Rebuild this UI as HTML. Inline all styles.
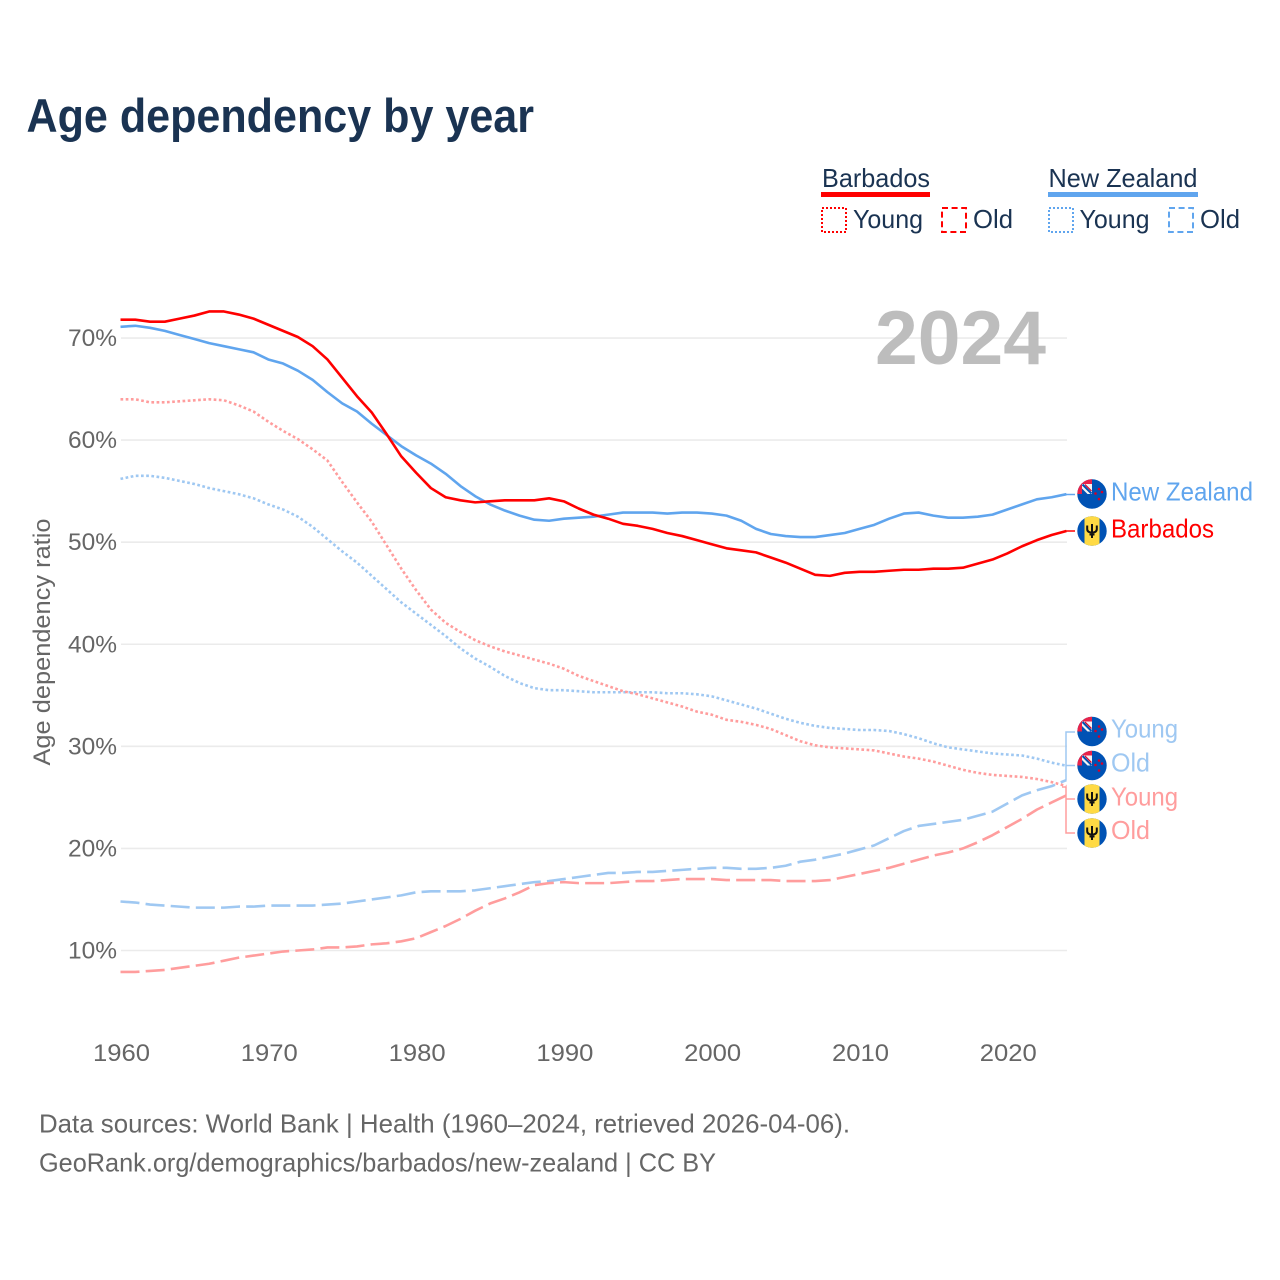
<!DOCTYPE html>
<html lang="en">
<head>
<meta charset="utf-8">
<title>Age dependency by year</title>
<style>
html,body{margin:0;padding:0;background:#fff;}
#chart{display:block;width:1280px;height:1280px;font-family:"Liberation Sans",sans-serif;}
</style>
</head>
<body>
<svg id="chart" xmlns="http://www.w3.org/2000/svg" width="1280" height="1280" viewBox="0 0 1280 1280">
<rect x="0" y="0" width="1280" height="1280" fill="#ffffff"/>
<text x="26.5" y="132" font-size="47" font-weight="700" fill="#1a3352" textLength="507.5" lengthAdjust="spacingAndGlyphs">Age dependency by year</text>

<g font-size="26" fill="#1a3352">
<text x="822" y="187" textLength="108" lengthAdjust="spacingAndGlyphs">Barbados</text>
<rect x="821" y="192" width="109" height="5" fill="#ff0000"/>
<rect x="822" y="208" width="24" height="24" fill="none" stroke="#ff0000" stroke-width="2" stroke-dasharray="2 2"/>
<text x="853" y="228" textLength="70" lengthAdjust="spacingAndGlyphs">Young</text>
<rect x="942" y="208" width="24" height="24" fill="none" stroke="#ff0000" stroke-width="2" stroke-dasharray="6 3.6"/>
<text x="973" y="228" textLength="40" lengthAdjust="spacingAndGlyphs">Old</text>
<text x="1048.5" y="187" textLength="149" lengthAdjust="spacingAndGlyphs">New Zealand</text>
<rect x="1048" y="192" width="150" height="5" fill="#60a5ee"/>
<rect x="1049" y="208" width="24" height="24" fill="none" stroke="#60a5ee" stroke-width="2" stroke-dasharray="2 2"/>
<text x="1079.5" y="228" textLength="70" lengthAdjust="spacingAndGlyphs">Young</text>
<rect x="1169" y="208" width="24" height="24" fill="none" stroke="#60a5ee" stroke-width="2" stroke-dasharray="6 3.6"/>
<text x="1200" y="228" textLength="40" lengthAdjust="spacingAndGlyphs">Old</text>
</g>

<g id="grid"></g>
<g id="yticks"></g>
<g id="xticks"></g>
<text x="875" y="364" font-size="76" font-weight="700" fill="#bdbdbd" textLength="171" lengthAdjust="spacingAndGlyphs">2024</text>
<text transform="translate(50,642) rotate(-90)" text-anchor="middle" font-size="24.5" fill="#666666" textLength="247" lengthAdjust="spacingAndGlyphs">Age dependency ratio</text>
<g id="series"></g>

<g fill="none" stroke-width="1.5">
<path d="M1066 494.5H1075" stroke="#60a5ee"/>
<path d="M1066 531H1075" stroke="#ff0000"/>
<path d="M1075 732H1066V780M1066 765.5H1075" stroke="#9fc8f2"/>
<path d="M1062 787H1066V833H1075M1066 799H1075" stroke="#ff9d9d"/>
</g>

<defs>
<clipPath id="flag-clip"><circle cx="0" cy="0" r="14.7"/></clipPath>
</defs>
<g id="flags"></g>

<g font-size="26">
<text x="1111" y="500.5" fill="#60a5ee" textLength="142" lengthAdjust="spacingAndGlyphs">New Zealand</text>
<text x="1111" y="537.5" fill="#ff0000" textLength="103" lengthAdjust="spacingAndGlyphs">Barbados</text>
<text x="1111" y="737.5" fill="#9fc8f2" textLength="67" lengthAdjust="spacingAndGlyphs">Young</text>
<text x="1111" y="771.5" fill="#9fc8f2" textLength="39" lengthAdjust="spacingAndGlyphs">Old</text>
<text x="1111" y="805.5" fill="#ff9d9d" textLength="67" lengthAdjust="spacingAndGlyphs">Young</text>
<text x="1111" y="839" fill="#ff9d9d" textLength="39" lengthAdjust="spacingAndGlyphs">Old</text>
</g>

<g font-size="26" fill="#666666">
<text x="39" y="1132.5" textLength="811" lengthAdjust="spacingAndGlyphs">Data sources: World Bank | Health (1960–2024, retrieved 2026-04-06).</text>
<text x="39" y="1171.5" textLength="677" lengthAdjust="spacingAndGlyphs">GeoRank.org/demographics/barbados/new-zealand | CC BY</text>
</g>
</svg>

<script>
var firstYear = 1960;
var xTickYears = [1960, 1970, 1980, 1990, 2000, 2010, 2020];
var yTickValues = [10, 20, 30, 40, 50, 60, 70];
var barbadosTotal = [71.8,71.8,71.6,71.6,71.9,72.2,72.6,72.6,72.3,71.9,71.3,70.7,70.1,69.2,67.9,66.1,64.3,62.7,60.6,58.4,56.8,55.3,54.4,54.1,53.9,54.0,54.1,54.1,54.1,54.3,54.0,53.3,52.7,52.3,51.8,51.6,51.3,50.9,50.6,50.2,49.8,49.4,49.2,49.0,48.5,48.0,47.4,46.8,46.7,47.0,47.1,47.1,47.2,47.3,47.3,47.4,47.4,47.5,47.9,48.3,48.9,49.6,50.2,50.7,51.1];
var newZealandTotal = [71.1,71.2,71.0,70.7,70.3,69.9,69.5,69.2,68.9,68.6,67.9,67.5,66.8,65.9,64.7,63.6,62.8,61.6,60.5,59.4,58.5,57.7,56.7,55.5,54.5,53.7,53.1,52.6,52.2,52.1,52.3,52.4,52.5,52.7,52.9,52.9,52.9,52.8,52.9,52.9,52.8,52.6,52.1,51.3,50.8,50.6,50.5,50.5,50.7,50.9,51.3,51.7,52.3,52.8,52.9,52.6,52.4,52.4,52.5,52.7,53.2,53.7,54.2,54.4,54.7];
var barbadosYoung = [64.0,64.0,63.7,63.7,63.8,63.9,64.0,63.9,63.4,62.8,61.8,60.9,60.1,59.1,58.0,55.9,53.9,52.0,49.7,47.4,45.3,43.4,42.1,41.2,40.4,39.8,39.3,38.9,38.5,38.1,37.6,36.9,36.4,35.9,35.4,35.1,34.7,34.3,33.9,33.4,33.1,32.6,32.4,32.1,31.7,31.1,30.5,30.1,29.9,29.8,29.7,29.6,29.3,29.0,28.8,28.5,28.1,27.7,27.4,27.2,27.1,27.0,26.8,26.5,26.1];
var barbadosOld = [7.9,7.9,8.0,8.1,8.3,8.5,8.7,9.0,9.3,9.5,9.7,9.9,10.0,10.1,10.3,10.3,10.4,10.6,10.7,10.9,11.2,11.8,12.4,13.1,13.9,14.6,15.1,15.7,16.4,16.6,16.7,16.6,16.6,16.6,16.7,16.8,16.8,16.9,17.0,17.0,17.0,16.9,16.9,16.9,16.9,16.8,16.8,16.8,16.9,17.2,17.5,17.8,18.1,18.5,18.9,19.3,19.6,20.0,20.6,21.3,22.1,22.9,23.8,24.5,25.2];
var newZealandYoung = [56.2,56.5,56.5,56.3,56.0,55.7,55.3,55.0,54.7,54.3,53.7,53.2,52.5,51.5,50.3,49.1,48.0,46.7,45.4,44.1,43.0,41.9,40.8,39.6,38.6,37.8,36.9,36.2,35.7,35.5,35.5,35.4,35.3,35.3,35.3,35.3,35.3,35.2,35.2,35.1,34.9,34.5,34.1,33.7,33.2,32.7,32.3,32.0,31.8,31.7,31.6,31.6,31.5,31.2,30.8,30.3,29.9,29.7,29.5,29.3,29.2,29.1,28.8,28.4,28.1];
var newZealandOld = [14.8,14.7,14.5,14.4,14.3,14.2,14.2,14.2,14.3,14.3,14.4,14.4,14.4,14.4,14.5,14.6,14.8,15.0,15.2,15.4,15.7,15.8,15.8,15.8,15.9,16.1,16.3,16.5,16.7,16.8,17.0,17.2,17.4,17.6,17.6,17.7,17.7,17.8,17.9,18.0,18.1,18.1,18.0,18.0,18.1,18.3,18.7,18.9,19.2,19.5,19.9,20.3,21.0,21.7,22.2,22.4,22.6,22.8,23.2,23.6,24.4,25.2,25.7,26.1,26.7];

var SVG_NS = 'http://www.w3.org/2000/svg';
function xScale(year) { return 120.5 + (year - 1960) * 14.78; }
function yScale(value) { return 950.5 - (value - 10) * 10.208; }
function make(tag, attrs, parent) {
  var el = document.createElementNS(SVG_NS, tag);
  for (var k in attrs) { el.setAttribute(k, attrs[k]); }
  parent.appendChild(el);
  return el;
}

var gridGroup = document.getElementById('grid');
var yTickGroup = document.getElementById('yticks');
yTickValues.forEach(function (v) {
  var line = make('line', {x1: 121, x2: 1067, y1: yScale(v), y2: yScale(v), stroke: '#ebebeb', 'stroke-width': 1.6}, gridGroup);
  
  
  var label = make('text', {x: 68, y: yScale(v) + 8, 'font-size': 24, fill: '#666666', textLength: 49, lengthAdjust: 'spacingAndGlyphs'}, yTickGroup);
  
  
  label.textContent = v + '%';
});

var xTickGroup = document.getElementById('xticks');
xTickYears.forEach(function (year) {
  var label = make('text', {x: xScale(year) - 27.5, y: 1061, 'font-size': 24, fill: '#666666', textLength: 57, lengthAdjust: 'spacingAndGlyphs'}, xTickGroup);
  
  
  label.textContent = String(year);
});

function drawSeries(values, name, color, dash) {
  var points = values.map(function (v, i) {
    return xScale(firstYear + i).toFixed(2) + ',' + yScale(v).toFixed(2);
  }).join(' ');
  var attrs = {points: points, fill: 'none', stroke: color, 'stroke-width': 2.6, 'stroke-linejoin': 'round'};
  if (dash) { attrs['stroke-dasharray'] = dash; }
  var line = make('polyline', attrs, document.getElementById('series'));
  
  
}
drawSeries(newZealandOld, 'line-new-zealand-old', '#9fc8f2', '19 6.2');
drawSeries(barbadosOld, 'line-barbados-old', '#ff9d9d', '19 6.2');
drawSeries(newZealandYoung, 'line-new-zealand-young', '#9fc8f2', '2.7 2.5');
drawSeries(barbadosYoung, 'line-barbados-young', '#ff9d9d', '2.7 2.5');
drawSeries(newZealandTotal, 'line-new-zealand-total', '#60a5ee', null);
drawSeries(barbadosTotal, 'line-barbados-total', '#ff0000', null);

function drawNZFlag(cy, name) {
  var g = make('g', {transform: 'translate(1092,' + cy + ')', 'clip-path': 'url(#flag-clip)'}, document.getElementById('flags'));
  
  
  make('rect', {x: -15, y: -15, width: 30, height: 30, fill: '#0052b4'}, g);
  make('rect', {x: -15, y: -15, width: 15, height: 15, fill: '#e8234a'}, g);
  make('rect', {x: -10, y: -10, width: 10, height: 10, fill: '#f4f4f4'}, g);
  make('path', {d: 'M-10 -5.5V0H-4.5Z', fill: '#0052b4'}, g);
  make('path', {d: 'M-9.5 -9.5L-0.5 -0.5', stroke: '#0052b4', 'stroke-width': 2}, g);
  make('path', {d: 'M-7 -9.5L-0.5 -3', stroke: '#d80027', 'stroke-width': 1.2}, g);
  [[3.5, -0.5], [7, -5], [10, -2], [7, 5]].forEach(function (s) {
    make('circle', {cx: s[0], cy: s[1], r: 1.3, fill: '#d80027'}, g);
  });
}
function drawBarbadosFlag(cy, name) {
  var g = make('g', {transform: 'translate(1092,' + cy + ')', 'clip-path': 'url(#flag-clip)'}, document.getElementById('flags'));
  
  
  make('rect', {x: -15, y: -15, width: 30, height: 30, fill: '#0052b4'}, g);
  make('rect', {x: -7.5, y: -15, width: 15, height: 30, fill: '#ffda44'}, g);
  make('path', {d: 'M-4.8 -5.5V-2Q-4.8 1.5 0 1.5Q4.8 1.5 4.8 -2V-5.5M0 -7V7M-2.5 3.5H2.5', fill: 'none', stroke: '#111111', 'stroke-width': 2}, g);
}
drawNZFlag(494, 'flag-new-zealand');
drawBarbadosFlag(531, 'flag-barbados');
drawNZFlag(731.5, 'flag-new-zealand-young');
drawNZFlag(765.5, 'flag-new-zealand-old');
drawBarbadosFlag(799, 'flag-barbados-young');
drawBarbadosFlag(833, 'flag-barbados-old');
</script>
</body>
</html>
